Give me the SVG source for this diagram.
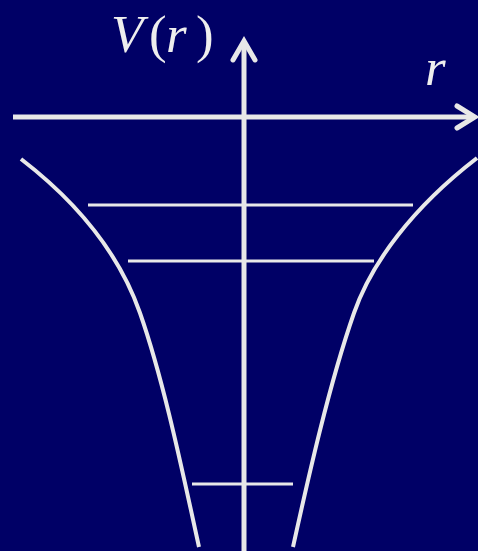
<svg xmlns="http://www.w3.org/2000/svg" width="478" height="551" viewBox="0 0 478 551">
<style>
.ax{stroke:#e8e8e8;stroke-width:5;fill:none}
.head{stroke:#e8e8e8;stroke-width:5;fill:none;stroke-linecap:round;stroke-linejoin:miter}
.curve{stroke:#e8e8e8;stroke-width:4;fill:none}
.lvl{stroke:#e8e8e8;stroke-width:3}
.lab{fill:#eeeeee;font-family:"Liberation Serif","DejaVu Serif",serif;font-size:53px}
</style>
<rect width="478" height="551" fill="#000066"/>
<g id="connectors">
<g id="r-axis">
<line class="ax" x1="13" y1="117" x2="474" y2="117"/>
<polyline class="head" points="457,106 475,117 457,128"/>
</g>
<g id="v-axis">
<line class="ax" x1="244" y1="551" x2="244" y2="43"/>
<polyline class="head" points="233,60 244,41 255,60"/>
</g>
</g>
<g id="potential">
<path class="curve" d="M21,159 C86,209 122.5,263 140,313 C164.5,383 183.6,477 199,547"/>
<path class="curve" d="M477,158 C412,208 371.5,263 354,313 C329.5,383 308.4,477 293,547"/>
</g>
<g id="levels">
<line class="lvl" x1="88" y1="205" x2="413" y2="205"/>
<line class="lvl" x1="128" y1="261" x2="374" y2="261"/>
<line class="lvl" x1="192" y1="484" x2="293" y2="484"/>
</g>
<g id="label-V">
<text class="lab" y="52"><tspan x="111" font-style="italic">V</tspan><tspan x="149">(</tspan><tspan x="166" font-style="italic">r</tspan><tspan x="196">)</tspan></text>
</g>
<g id="label-r">
<text class="lab" x="425" y="85" font-style="italic">r</text>
</g>
</svg>
